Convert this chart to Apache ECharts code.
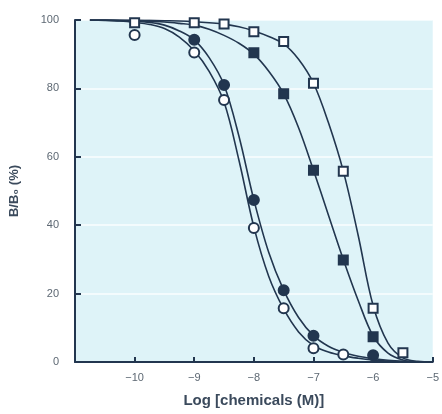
<!DOCTYPE html>
<html>
<head>
<meta charset="utf-8">
<script src="https://cdn.jsdelivr.net/npm/echarts@6/dist/echarts.min.js"></script>
<style>
html,body{margin:0;padding:0;background:#fff;}
#chart{width:442px;height:414px;}
</style>
</head>
<body>
<div id="chart"></div>
<script>
// ---- data ----
var xTicks = [-10, -9, -8, -7, -6, -5];
var yTicks = [0, 20, 40, 60, 80, 100];

// measured points: [log concentration, B/B0 %]
var openCircleX = [-10, -9, -8.5, -8, -7.5, -7, -6.5];
var openCircleY = [95.6, 90.5, 76.6, 39.2, 15.7, 4.0, 2.2];

var filledCircleX = [-9, -8.5, -8, -7.5, -7, -6];
var filledCircleY = [94.2, 81, 47.4, 21, 7.7, 2.0];

var filledSquareX = [-8, -7.5, -7, -6.5, -6];
var filledSquareY = [90.4, 78.4, 56.1, 29.8, 7.4];

var openSquareX = [-10, -9, -8.5, -8, -7.5, -7, -6.5, -6, -5.5];
var openSquareY = [99.2, 99.2, 98.8, 96.6, 93.7, 81.5, 55.8, 15.7, 2.7];

// fitted curves, every 0.25 log unit
var curveAX = [-10.75, -10.5, -10.25, -10, -9.75, -9.5, -9.25, -9, -8.75, -8.5, -8.25, -8, -7.75, -7.5, -7.25, -7, -6.75, -6.5, -6.25, -6, -5.75, -5.5];
var curveAY = [100, 99.9, 99.7, 99.3, 98.7, 97.5, 95, 91, 85, 76, 59, 39.5, 25, 15.5, 8.8, 4.8, 2.9, 1.8, 1.1, 0.6, 0.3, 0.1];

var curveBX = [-10.75, -10.5, -10.25, -10, -9.75, -9.5, -9.25, -9, -8.75, -8.5, -8.25, -8, -7.75, -7.5, -7.25, -7, -6.75, -6.5, -6.25, -6, -5.75, -5.5];
var curveBY = [100, 100, 99.8, 99.6, 99.3, 98.5, 96.8, 94.2, 89, 81, 66, 47.4, 32, 21, 13, 7.7, 4.6, 2.8, 1.7, 1.0, 0.5, 0.2];

var curveCX = [-10.75, -10.5, -10.25, -10, -9.75, -9.5, -9.25, -9, -8.75, -8.5, -8.25, -8, -7.75, -7.5, -7.25, -7, -6.75, -6.5, -6.25, -6, -5.75, -5.5, -5.25];
var curveCY = [100, 100, 99.9, 99.8, 99.6, 99.4, 99.0, 98.5, 97.3, 95.5, 93.2, 90, 85, 78.4, 68.5, 56.1, 43, 30, 18, 7.6, 2.6, 0.6, 0];

var curveDX = [-10.75, -10.5, -10.25, -10, -9.75, -9.5, -9.25, -9, -8.75, -8.5, -8.25, -8, -7.75, -7.5, -7.25, -7, -6.75, -6.5, -6.25, -6, -5.75, -5.5, -5.25, -5];
var curveDY = [100, 100, 100, 100, 99.9, 99.8, 99.7, 99.5, 99.2, 98.8, 98.0, 96.8, 95.2, 93, 88.5, 81.5, 70, 55.8, 37, 16.5, 5.5, 1.2, 0.2, 0];

function pairs(xs, ys) { return xs.map(function (x, i) { return [x, ys[i]]; }); }

var NAVY = '#22364f';
var LABEL = '#5d6873';
var FONT = "'Liberation Sans Narrow', 'Liberation Sans', 'Roboto', sans-serif";

function curve(xs, ys) {
  return {
    type: 'line', data: pairs(xs, ys), smooth: 0.35,
    showSymbol: false, symbol: 'none', silent: true, z: 2,
    lineStyle: { color: NAVY, width: 1.6 }
  };
}
function points(xs, ys, symbol, filled, size) {
  return {
    type: 'scatter', data: pairs(xs, ys), symbol: symbol, symbolSize: size, z: 5,
    itemStyle: { color: filled ? NAVY : '#ffffff', borderColor: NAVY, borderWidth: 2, opacity: 1 }
  };
}

var chart = echarts.init(document.getElementById('chart'), null, { renderer: 'canvas' });
chart.setOption({
  animation: false,
  backgroundColor: '#ffffff',
  grid: { left: 74, right: 4, top: 20, bottom: 52, show: true, backgroundColor: '#def3f8', borderWidth: 0 },
  xAxis: {
    type: 'value', min: -11, max: -5, interval: 1,
    name: 'Log [chemicals (M)]', nameLocation: 'middle', nameGap: 31,
    nameTextStyle: { color: '#3b4a5c', fontWeight: 'bold', fontSize: 15, fontFamily: FONT },
    axisLine: { show: true, onZero: false, lineStyle: { color: NAVY, width: 2 } },
    axisTick: { show: true, inside: true, length: 5, lineStyle: { color: NAVY, width: 2 },
      customValues: xTicks },
    axisLabel: { color: LABEL, fontSize: 11, fontFamily: FONT, margin: 10,
      customValues: xTicks,
      formatter: function (v) { return String(v).replace('-', '\u2212'); } },
    splitLine: { show: false }
  },
  yAxis: {
    type: 'value', min: 0, max: 100, interval: 20,
    name: 'B/B\u2080 (%)', nameLocation: 'middle', nameGap: 54, nameRotate: 90,
    nameTextStyle: { color: '#3b4a5c', fontWeight: 'bold', fontSize: 13, fontFamily: FONT },
    axisLine: { show: true, lineStyle: { color: NAVY, width: 2 } },
    axisTick: { show: true, inside: true, length: 6, lineStyle: { color: NAVY, width: 2 },
      customValues: yTicks },
    axisLabel: { color: LABEL, fontSize: 11, fontFamily: FONT, margin: 16, customValues: yTicks },
    splitLine: { show: true, lineStyle: { color: 'rgba(255,255,255,0.85)', width: 1.5 } }
  },
  series: [
    curve(curveAX, curveAY),
    curve(curveBX, curveBY),
    curve(curveCX, curveCY),
    curve(curveDX, curveDY),
    points(openCircleX, openCircleY, 'circle', false, 10),
    points(filledCircleX, filledCircleY, 'circle', true, 10),
    points(filledSquareX, filledSquareY, 'rect', true, 9),
    points(openSquareX, openSquareY, 'rect', false, 9)
  ]
});
</script>
</body>
</html>
